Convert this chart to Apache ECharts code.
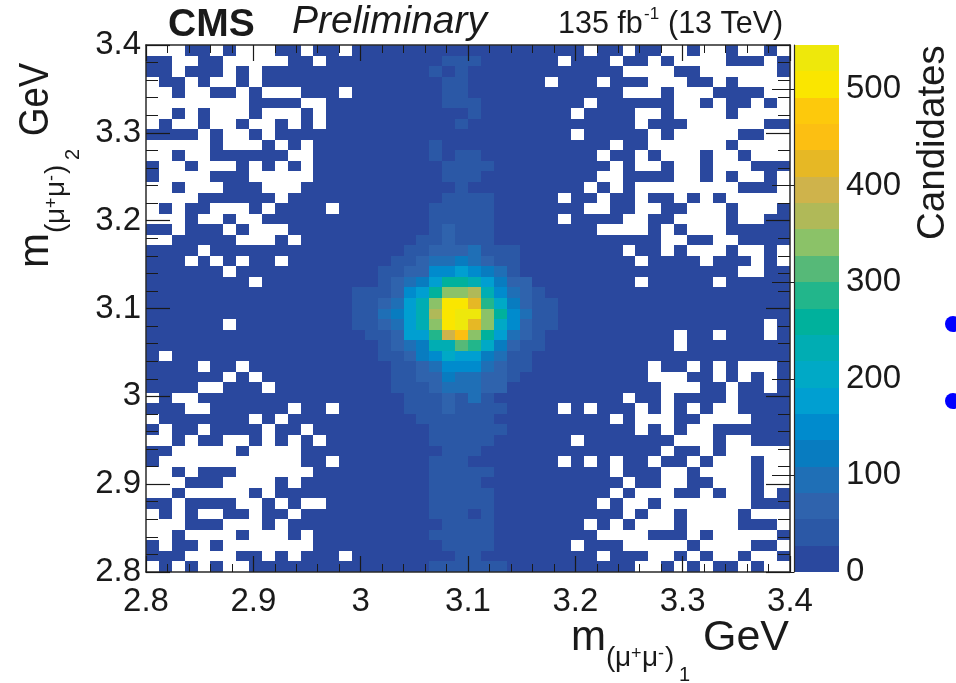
<!DOCTYPE html>
<html>
<head>
<meta charset="utf-8">
<style>html,body{margin:0;padding:0;background:#fff}#c{width:956px;height:683px}</style>
<script src="https://cdn.jsdelivr.net/npm/echarts@6/dist/echarts.min.js"></script>
</head>
<body>
<div id="c"></div>
<script>
// 50 x 50 bins, rows counted from the top of the plot (3.4 GeV) downward.
const massMin = 2.8, massMax = 3.4, binCount = 50, massStep = 0.1;
const massTicks = ['2.8','2.9','3','3.1','3.2','3.3','3.4'];
const colorbarTicks = [0,100,200,300,400,500];
const colorbarMax = 545.45;
const bandColors = ['#2a489e','#2b58a6','#2f63ad','#1f6fb6','#087cc0','#008bcd','#009fd1','#00a9c6','#00adb3','#00b19c',
  '#22b68b','#56b978','#8bc268','#b0b958','#cfb34b','#e6b825','#fcbf12','#fdc90c','#fae600','#eee80b'];
const backgroundCount = 8;
// columns with no entries, per row
const emptyBins = {
0:[0,1,2,5,7,8,9,12,15,34,37,40,41,43,44,46,47,49],
1:[2,3,6,7,8,9,10,13,32,36,39,41,42,43,44,48],
2:[2,6,8,37,38,39,40,43,44,45,46,47,48],
3:[0,3,5,6,8,31,35,39,40,41,44,46,47,48,49],
4:[0,1,3,4,7,9,10,11,15,37,38,39,41,42,43,48,49],
5:[0,1,2,3,4,5,6,7,12,13,34,41,42,44,47,49],
6:[0,1,3,5,6,7,9,10,11,13,33,38,39,41,42,43,44,46,47,48,49],
7:[0,2,3,5,6,8,9,11,13,38,42,43,44,45,46,47],
8:[4,6,7,9,33,39,41,42,43,44,45,48,49],
9:[0,1,2,3,4,6,7,8,10,12,36,39,40,41,42,43,44,46,47,48,49],
10:[0,1,3,4,11,12,35,38,40,41,42,44,45,47,48,49],
11:[1,2,4,5,6,8,10,12,36,38,39,41,42,44,45,46],
12:[1,2,3,4,8,9,10,11,12,35,36,41,42,44,46,47,49],
13:[0,1,3,4,5,9,10,11,34,36,38,39,40,41,42,43,44,45,49],
14:[0,1,2,3,10,32,35,38,41,43,45,46,47,48,49],
15:[0,2,5,6,7,9,14,34,35,38,39,42,43,44,46,47,48],
16:[0,1,2,4,5,7,8,32,37,38,41,42,43,44,46,47],
17:[2,6,8,9,10,35,36,37,38,40,42,43,44],
18:[0,1,7,8,9,11,40,41,44,45],
19:[4,37,40,42,43,44,46,47,49],
20:[3,5,7,10,38,43,47,49],
21:[6,46,47],
22:[8,38,44],
26:[6,48],
27:[41,44,48],
28:[41],
29:[1],
30:[4,7,39,42,44,46,47,48],
31:[6,8,39,40,41,44,46,48],
32:[4,5,9,40,41,42,45,48],
33:[0,2,3,37,40,45],
34:[3,4,11,14,32,34,38,40,42,44,45],
35:[0,8,10,36,38,39,40,43,44,45,46],
36:[1,4,9,12,38,40,42,43],
37:[0,1,3,6,7,9,11,13,33,41,42,43,45,46],
38:[2,3,4,5,6,8,9,10,11,40,43,45,46,47,48,49],
39:[1,2,3,4,5,6,7,8,9,10,11,14,32,34,36,39,42,44,45,46,48,49],
40:[0,1,3,7,8,9,10,11,12,36,40,41,43,44,45,46,48,49],
41:[0,1,2,6,7,8,9,11,37,40,41,44,45,46,48,49],
42:[0,1,3,4,5,6,7,9,36,38,39,40,43,45,46,48],
43:[2,7,8,10,12,13,35,37,38,40,41,42,43,44,45,46],
44:[0,2,4,5,8,11,37,39,40,42,43,44,45,47,48,49],
45:[0,1,2,6,7,8,10,34,36,38,39,40,42,43,44,45,49],
46:[0,1,3,4,5,6,8,9,10,12,35,36,37,38,42,44,45,46,47,48],
47:[1,4,6,7,8,9,10,11,12,33,37,38,39,40,41,43,44,45,46,49],
48:[3,4,5,6,9,11,15,35,39,40,42,44,45,47,48],
49:[0,2,4,6,7,38,39,41,43,46,48,49]
};
// [row, first column, counts...] for the populated core and the vertical band
const coreRows = [
[1,23,41,41,41],[2,22,41,8,41],[3,23,41,41],[4,23,41,41],[5,23,41,41,41],[6,25,41],[7,24,41],
[9,22,41],[10,22,41,8,41,41],[11,23,41,41,41,41],[12,23,41,41,41],[13,24,41],[14,23,41,41,41,41],
[15,22,41,41,41,41,41],[16,22,41,41,41,41,41],[17,22,41,68,41,41,41],[18,21,41,41,68,41,41,41],
[19,20,41,41,68,68,68,95,41,41,41],
[20,19,41,41,68,95,95,123,95,68,41,41],
[21,18,41,41,68,68,150,150,177,150,123,95,41],
[22,18,41,68,95,123,177,259,259,232,177,123,68,68],
[23,16,41,41,41,68,150,177,259,341,341,368,232,150,95,68,41],
[24,16,41,41,68,95,177,232,341,504,504,423,286,204,123,68,41,41],
[25,16,41,41,95,123,177,232,368,504,532,532,341,259,150,95,41,41],
[26,16,41,41,68,95,177,232,341,504,532,423,341,204,150,68,41,41],
[27,17,41,41,68,177,177,286,395,450,341,259,177,95,68,41],
[28,18,41,68,95,123,232,232,314,286,204,123,68,41,41],
[29,18,41,41,68,123,150,204,177,177,123,95,41,41],
[30,19,41,41,68,95,150,150,150,95,68,41,41],
[31,19,41,41,68,68,123,95,95,68,68,41],
[32,19,41,41,41,68,95,95,95,68,68],
[33,20,41,41,41,68,41,95,41],
[34,20,41,41,41,68,41,41,41,41],
[35,21,41,41,41,41,41,41],[36,22,41,41,41,41,41,41],[37,22,41,41,41,41,41],[38,23,41,41,41],
[39,22,41,41,41],[40,22,41,41,41,41,41],[41,22,41,41,41,41],[42,22,41,41,41,41,41],
[43,22,41,41,41,41,41],[44,22,41,41,41,8,41],[45,23,41,41,41,41],[46,22,41,41,41,41,41],
[47,23,41,41,41,41],[48,24,41,41],[49,22,41,41,41,41,41,41]
];

const binWidth = (massMax - massMin) / binCount;
const bandWidth = colorbarMax / bandColors.length;
const coreLookup = {};
coreRows.forEach(function (r) {
  r.slice(2).forEach(function (v, i) { coreLookup[r[0] + '_' + (r[1] + i)] = v; });
});
const cells = [];
for (let r = 0; r < binCount; r++) {
  const empties = emptyBins[r] || [];
  for (let c = 0; c < binCount; c++) {
    if (empties.indexOf(c) >= 0) continue;
    const key = r + '_' + c;
    const count = key in coreLookup ? coreLookup[key] : backgroundCount;
    cells.push([massMin + c * binWidth, massMax - (r + 1) * binWidth, count]);
  }
}
const bands = bandColors.map(function (col, i) { return [i * bandWidth, (i + 1) * bandWidth, i]; });

function colorFor(v) {
  return bandColors[Math.min(bandColors.length - 1, Math.floor(v / bandWidth))];
}
function massLabel(v) { return massTicks[Math.round((v - massMin) / massStep)]; }
const INK = '#1a1a1a';
const FONT = '"Liberation Sans", Arimo, Helvetica, Arial, sans-serif';
const frameLine = { show: true, onZero: false, lineStyle: { color: '#2a2a2a', width: 1.5 } };

function massAxisX(pos, showLabel) {
  return {
    type: 'value', gridIndex: 0, position: pos, min: massMin, max: massMax, interval: massStep, z: 10,
    axisLine: frameLine,
    axisTick: { show: true, inside: true, length: 16, lineStyle: { color: INK, width: 1.2 } },
    minorTick: { show: true, splitNumber: 5, length: 8, lineStyle: { color: INK, width: 1 } },
    splitLine: { show: false }, minorSplitLine: { show: false },
    axisLabel: { show: showLabel, formatter: massLabel, fontFamily: FONT, fontSize: 33, color: INK, margin: 13, showMinLabel: true, showMaxLabel: true }
  };
}
function massAxisY(pos, showLabel) {
  return {
    type: 'value', gridIndex: 0, position: pos, min: massMin, max: massMax, interval: massStep, z: 10,
    axisLine: frameLine,
    axisTick: { show: true, inside: true, length: 24, lineStyle: { color: INK, width: 1.2 } },
    minorTick: { show: true, splitNumber: 5, length: 12, lineStyle: { color: INK, width: 1 } },
    splitLine: { show: false }, minorSplitLine: { show: false },
    axisLabel: { show: showLabel, formatter: massLabel, fontFamily: FONT, fontSize: 33, color: INK, margin: 5, showMinLabel: true, showMaxLabel: true }
  };
}
// each piece: [x, baseline y, text, size, weight/style]; 'middle' sits 0.33em above the baseline
function pieces(x, y, rotation, items, scaleX) {
  return {
    type: 'group', x: x, y: y, rotation: rotation, scaleX: scaleX || 1,
    children: items.map(function (t) {
      return { type: 'text', x: t[0], y: t[1] - 0.33 * t[3], style: {
        text: t[2], fill: INK, font: (t[4] || '') + ' ' + t[3] + 'px ' + FONT,
        align: 'left', verticalAlign: 'middle' } };
    })
  };
}
function massSub(sub) {
  return [
    [0,0,'m',42],
    [35,16,'(',28],[44,16,'\u03bc',28],[60,8,'+',18],[71,16,'\u03bc',28],[87,8,'-',18],[94,16,')',28],
    [108,30,sub,20]
  ];
}
const GEV = [[0,0,'GeV',43]];

const option = {
  animation: false,
  backgroundColor: '#fff',
  grid: [
    { left: 146, top: 45, width: 644, height: 527, containLabel: false },
    { left: 794, top: 45, width: 45, height: 527, containLabel: false }
  ],
  xAxis: [
    massAxisX('bottom', true),
    massAxisX('top', false),
    { type: 'value', gridIndex: 1, min: 0, max: 1, show: false }
  ],
  yAxis: [
    massAxisY('left', true),
    massAxisY('right', false),
    {
      type: 'value', gridIndex: 1, position: 'right', min: 0, max: colorbarMax, z: 10,
      axisLine: { show: true, lineStyle: { color: '#2a2a2a', width: 1.2 } },
      axisTick: { show: true, inside: true, length: 22, customValues: colorbarTicks, lineStyle: { color: INK, width: 1 } },
      splitLine: { show: false },
      axisLabel: { show: true, fontFamily: FONT, fontSize: 33, color: INK, margin: 7, customValues: colorbarTicks }
    }
  ],
  series: [
    {
      type: 'custom', xAxisIndex: 0, yAxisIndex: 0, coordinateSystem: 'cartesian2d', data: cells, silent: true, clip: true,
      encode: { x: 0, y: 1 },
      renderItem: function (params, api) {
        const x0 = api.value(0), y0 = api.value(1);
        const a = api.coord([x0, y0 + binWidth]);
        const b = api.coord([x0 + binWidth, y0]);
        const l = Math.round(a[0]), t = Math.round(a[1]);
        return { type: 'rect', shape: { x: l, y: t, width: Math.round(b[0]) - l, height: Math.round(b[1]) - t },
          style: { fill: colorFor(api.value(2)) } };
      }
    },
    {
      type: 'custom', xAxisIndex: 2, yAxisIndex: 2, coordinateSystem: 'cartesian2d', data: bands, silent: true,
      encode: { y: [0, 1] },
      renderItem: function (params, api) {
        const a = api.coord([0, api.value(1)]);
        const b = api.coord([1, api.value(0)]);
        const l = Math.round(a[0]), t = Math.round(a[1]);
        return { type: 'rect', shape: { x: l, y: t, width: Math.round(b[0]) - l, height: Math.round(b[1]) - t },
          style: { fill: bandColors[api.value(2)] } };
      }
    }
  ],
  graphic: [
    pieces(168, 38, 0, [[0,0,'CMS',39,'bold']]),
    pieces(292, 35, 0, [[0,0,'Preliminary',39,'italic']]),
    pieces(558, 35, 0, [[0,0,'135 fb',30.5],[86,-15,'-1',17],[110,0,'(13 TeV)',30.5]]),
    pieces(571, 652, 0, massSub('1')),
    pieces(703, 652, 0, GEV),
    pieces(50, 268, Math.PI / 2, massSub('2')),
    pieces(50, 136, Math.PI / 2, GEV, 0.85),
    pieces(946, 240, Math.PI / 2, [[0,0,'Candidates',38.5]]),
    { type: 'circle', shape: { cx: 953, cy: 324, r: 8 }, style: { fill: '#0000ff' } },
    { type: 'circle', shape: { cx: 953, cy: 401, r: 8 }, style: { fill: '#0000ff' } }
  ]
};
const chart = echarts.init(document.getElementById('c'), null, { renderer: 'canvas' });
chart.setOption(option);
</script>
</body>
</html>
